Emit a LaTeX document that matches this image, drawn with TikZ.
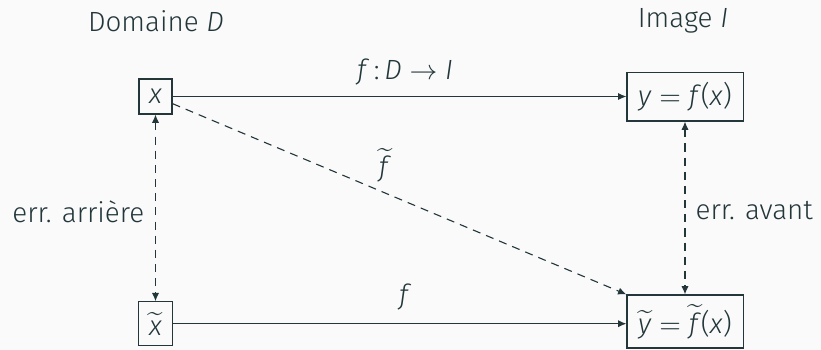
\documentclass[tikz,border=0pt]{standalone}
\usepackage{fontspec}
\setmainfont{Fira Sans}[UprightFont=* Light, ItalicFont=* Light Italic]
\usetikzlibrary{arrows.meta}
\definecolor{mDark}{HTML}{23373B}
\definecolor{mBg}{HTML}{FAFAFA}
\newcommand\mi[1]{\textit{#1}}
\newcommand\tl[1]{\widetilde{\mbox{\mi{#1}}}}
\begin{document}
\begin{tikzpicture}[x=0.36pt,y=-0.36pt,
  every node/.style={text=mDark,font=\fontsize{10}{12}\selectfont},
  box/.style={draw=mDark, line width=0.4pt, inner sep=0pt},
  tip/.tip={Latex[length=3pt,width=2.6pt]},
  conn/.style={draw=mDark, line width=0.4pt, -tip},
  dconn/.style={conn, dash pattern=on 2.9pt off 2.2pt},
  ddconn/.style={dconn, tip-tip}]
\fill[mBg] (0,0) rectangle (821,350);
\useasboundingbox (0,0) rectangle (821,350);
\node (dom) at (156,21) {Domaine \mi{D}};
\node (img) at (683,21) {Image \mi{I}};
\node[box, minimum width=11.9pt, minimum height=12.6pt] (x) at (155.5,96.5) {\mi{x}};
\node[box, minimum width=41.8pt, minimum height=17.6pt] (y) at (685,96.5) {\mi{y}${}={}$\mi{f}(\mi{x})};
\node[box, minimum width=12.1pt, minimum height=15.8pt] (xt) at (155.5,323.7) {$\tl{x}$};
\node[box, minimum width=41.8pt, minimum height=19.1pt] (yt) at (685,321.5) {$\tl{y}=\tl{f}$(\mi{x})};
\draw[conn] (x) -- node[midway, yshift=8.8pt, xshift=2pt] {\mi{f}\,:\,\mi{D} $\rightarrow$ \mi{I}} (y);
\draw[conn] (xt) -- (yt.west |- xt.east) node[midway, yshift=9.6pt, xshift=2pt] {\mi{f}};
\draw[dconn] (x) -- node[pos=0.468, yshift=10pt] {$\tl{f}$} (yt.north west);
\draw[ddconn] (x) -- node[left=0.5pt, yshift=-1.4pt] {err. arrière} (xt);
\draw[ddconn] (y) -- node[right=0.3pt, yshift=-1pt] {err. avant} (yt);
\end{tikzpicture}
\end{document}
